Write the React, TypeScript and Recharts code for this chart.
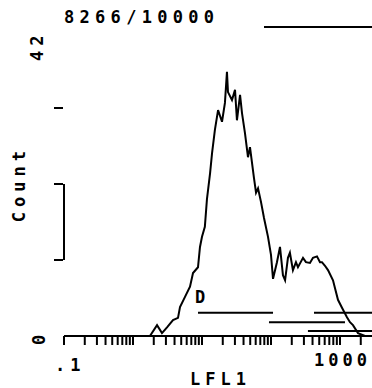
import React from 'react';
import { LineChart, Line, XAxis, YAxis, ReferenceLine, Label } from 'recharts';

// LFL1 channel value (log scale) for each histogram point
const channelValues = [
  0.1, 0.333, 1.26, 1.76, 2.23, 2.63, 3.11, 3.8, 4.49, 4.8,
  5.67, 6.7, 7.41, 8.75, 9.35, 10.0, 11.0, 11.8, 13.1, 14.0,
  15.4, 17.1, 19.5, 21.5, 23.0, 23.8, 27.2, 30.1, 32.1, 35.6,
  38.0, 42.0, 46.4, 49.6, 56.7, 60.7, 64.9, 71.7, 79.2, 90.5,
  100, 107, 122, 135, 149, 160, 176, 188, 208, 230,
  246, 291, 321, 367, 406, 464, 513, 548, 606, 670,
  792, 847, 935, 1069, 1262, 1396, 1542, 1824, 2302, 2910,
];
// event counts
const counts = [
  0, 0, 0, 0, 1.5, 0.4, 1.2, 2.2, 2.5, 4.0,
  5.4, 6.8, 8.7, 9.5, 12.3, 13.7, 15.1, 18.9, 22.5, 25.3,
  28.5, 31.2, 29.6, 32.2, 36.5, 33.7, 32.6, 34.0, 29.8, 33.3,
  30.8, 28.0, 24.7, 26.1, 21.8, 19.8, 20.4, 18.5, 16.3, 13.7,
  11.2, 7.9, 10.2, 12.3, 8.4, 7.7, 10.8, 11.5, 9.1, 10.2,
  9.5, 10.8, 10.2, 10.1, 10.8, 11.0, 10.2, 10.2, 9.7, 9.1,
  7.7, 6.6, 5.0, 3.9, 2.6, 1.9, 1.5, 0.4, 0, 0,
];

// gate / marker bars
const gateStarts = [8.75, 420, 93.5, 343];
const gateEnds = [107, 2910, 1181, 2910];
const gateLevels = [3.2, 3.2, 1.9, 0.7];
const gateNames = ['D', '', '', ''];

const topLineStart = 79.2;
const topLineEnd = 2910;
const topLineLevel = 42.7;

const xTicks = [
  0.1, 0.2, 0.3, 0.4, 0.5, 0.6, 0.7, 0.8, 0.9,
  1, 2, 3, 4, 5, 6, 7, 8, 9,
  10, 20, 30, 40, 50, 60, 70, 80, 90,
  100, 200, 300, 400, 500, 600, 700, 800, 900,
  1000, 2000,
];
const yTicks = [0, 10.5, 21, 31.5, 42];
const xDomain = [0.1, 2910];
const yDomain = [0, 42];

const title = '8266/10000';
const xTitle = 'LFL1';
const yTitle = 'Count';

const FONT = '"DejaVu Sans Mono", monospace';
const textStyle: React.CSSProperties = {
  fontFamily: FONT,
  fontWeight: 700,
  fontSize: 17,
  letterSpacing: 5,
  fill: '#000',
};

const data = channelValues.map((v, i) => ({ v, c: counts[i] }));

const XTick = (props: any) => {
  const { x, payload } = props;
  if (payload.value === 0.1) {
    return (
      <text x={x - 9} y={371} textAnchor="start" style={textStyle}>
        .1
      </text>
    );
  }
  if (payload.value === 1000) {
    return (
      <text x={x - 26} y={366} textAnchor="start" style={{ ...textStyle, letterSpacing: 4 }}>
        1000
      </text>
    );
  }
  return <g />;
};

const YTick = (props: any) => {
  const { y, payload } = props;
  const v = payload.value;
  if (v === 0) {
    return (
      <text x={45} y={y + 9} transform={`rotate(-90 45 ${y + 9})`} textAnchor="start" style={textStyle}>
        0
      </text>
    );
  }
  if (v === 42) {
    return (
      <text x={43} y={y + 29} transform={`rotate(-90 43 ${y + 29})`} textAnchor="start" style={textStyle}>
        42
      </text>
    );
  }
  return <line x1={54} x2={63} y1={y} y2={y} stroke="#000" strokeWidth={2} />;
};

export default function App() {
  return (
    <div
      style={{
        position: 'absolute',
        left: 0,
        top: 0,
        width: 372,
        height: 388,
        overflow: 'hidden',
        background: '#fff',
      }}
    >
      <div
        style={{
          position: 'absolute',
          left: 64,
          top: 9,
          fontFamily: FONT,
          fontWeight: 700,
          fontSize: 17,
          lineHeight: '17px',
          letterSpacing: 5.3,
          color: '#000',
          whiteSpace: 'nowrap',
        }}
      >
        {title}
      </div>
      <LineChart
        width={372}
        height={388}
        data={data}
        margin={{ top: 32, right: 0, bottom: 0, left: 0 }}
        style={{ position: 'absolute', left: 0, top: 0 }}
      >
        <XAxis
          dataKey="v"
          type="number"
          scale="log"
          domain={xDomain}
          allowDataOverflow
          ticks={xTicks}
          interval={0}
          tick={<XTick />}
          tickSize={9}
          axisLine={{ stroke: '#000', strokeWidth: 2 }}
          tickLine={{ stroke: '#000', strokeWidth: 2 }}
          height={52}
        >
          <Label
            content={() => (
              <text x={190} y={385} textAnchor="start" style={textStyle}>
                {xTitle}
              </text>
            )}
          />
        </XAxis>
        <YAxis
          type="number"
          domain={yDomain}
          allowDataOverflow
          ticks={yTicks}
          interval={0}
          width={64}
          axisLine={false}
          tickLine={false}
          tick={<YTick />}
        >
          <Label
            content={() => (
              <text x={25} y={146} transform="rotate(-90 25 146)" textAnchor="end" style={textStyle}>
                {yTitle}
              </text>
            )}
          />
        </YAxis>
        <ReferenceLine
          segment={[
            { x: xDomain[0], y: yTicks[1] },
            { x: xDomain[0], y: yTicks[2] },
          ]}
          stroke="#000"
          strokeWidth={2}
        />
        <ReferenceLine
          segment={[
            { x: topLineStart, y: topLineLevel },
            { x: topLineEnd, y: topLineLevel },
          ]}
          ifOverflow="visible"
          stroke="#000"
          strokeWidth={2}
        />
        {gateStarts.map((s, i) => (
          <ReferenceLine
            key={i}
            segment={[
              { x: s, y: gateLevels[i] },
              { x: gateEnds[i], y: gateLevels[i] },
            ]}
            stroke="#000"
            strokeWidth={2}
            ifOverflow="visible"
          >
            {gateNames[i] ? (
              <Label
                content={(p: any) => {
                  const vb = p.viewBox || {};
                  return (
                    <text x={(vb.x || 0) - 3} y={(vb.y || 0) - 10} textAnchor="start" style={textStyle}>
                      {gateNames[i]}
                    </text>
                  );
                }}
              />
            ) : null}
          </ReferenceLine>
        ))}
        <Line
          type="linear"
          dataKey="c"
          stroke="#000"
          strokeWidth={2}
          dot={false}
          isAnimationActive={false}
        />
      </LineChart>
    </div>
  );
}
